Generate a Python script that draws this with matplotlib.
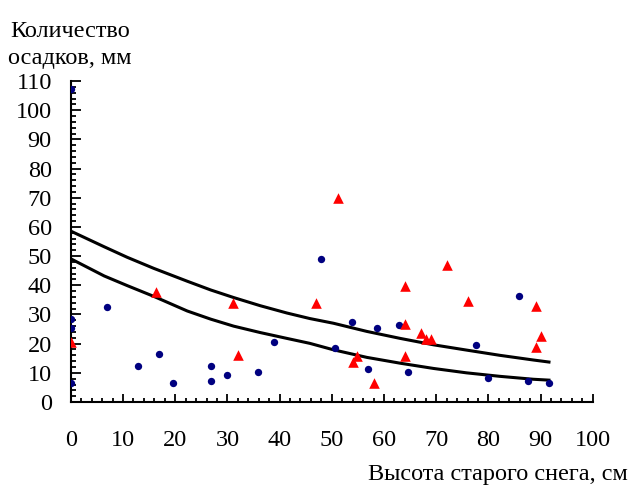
import matplotlib
matplotlib.use("Agg")
import matplotlib.pyplot as plt
import matplotlib.transforms as mtransforms
from matplotlib.ticker import MultipleLocator

plt.rcParams['font.family'] = ['Liberation Serif', 'DejaVu Serif']

# blue dots
blue_x = [0, 0, 0, 0, 6.9, 12.9, 16.9, 19.6, 26.8, 26.8, 29.9, 35.8, 38.9, 47.9,
          50.7, 53.8, 56.9, 58.7, 62.8, 64.6, 77.7, 79.9, 85.8, 87.6, 91.6]
blue_y = [107.4, 28.3, 25.2, 6.6, 32.5, 12.3, 16.4, 6.6, 12.3, 7.1, 9.1, 10.2, 20.6, 49.1,
          18.6, 27.3, 11.2, 25.2, 26.3, 10.2, 19.5, 8.1, 36.2, 7.1, 6.6]

# red triangles
red_x = [0.1, 16.3, 31.1, 32.1, 47.0, 51.1, 54.1, 54.9, 58.1, 64.1, 64.1, 64.1,
         67.1, 68.1, 69.0, 72.1, 76.1, 89.2, 89.2, 90.1]
red_y = [20.6, 37.7, 34.0, 16.0, 34.0, 69.8, 13.7, 15.8, 6.5, 39.8, 26.7, 15.9,
         23.5, 21.7, 21.6, 47.0, 34.5, 32.9, 19.0, 22.6]

# trend curves
upper_x = [0.2, 6.4, 10.8, 15.9, 22.3, 26.8, 31.2, 36.3, 41.4, 45.8,
           50.3, 56.7, 63.1, 69.5, 75.8, 82.2, 88.6, 91.6]
upper_y = [58.4, 53.2, 49.6, 45.8, 41.4, 38.4, 35.8, 33.0, 30.5, 28.6,
           27.0, 24.2, 21.8, 19.6, 17.8, 16.0, 14.4, 13.7]
lower_x = upper_x
lower_y = [48.9, 43.2, 39.9, 36.2, 31.2, 28.4, 26.0, 23.8, 21.8, 20.1,
           17.9, 15.3, 13.3, 11.5, 10.0, 8.8, 7.8, 7.5]

x_ticks = [0, 10, 20, 30, 40, 50, 60, 70, 80, 90, 100]
y_ticks = [0, 10, 20, 30, 40, 50, 60, 70, 80, 90, 100, 110]

fig = plt.figure(figsize=(6.32, 4.86), dpi=100)
ax = fig.add_axes([0.112, 0.1728, 0.826, 0.6605])

ax.plot(upper_x, upper_y, color='black', lw=2.2, zorder=2)
ax.plot(lower_x, lower_y, color='black', lw=2.2, zorder=2)
ax.scatter(blue_x, blue_y, s=28, color='#000080', marker='o', zorder=3, linewidths=0)
ax.scatter(red_x, red_y, s=58, color='#FF0000', marker='^', zorder=3, linewidths=0)

ax.set_xlim(0, 100)
ax.set_ylim(0, 110)
ax.set_xticks(x_ticks)
ax.set_yticks(y_ticks)
ax.xaxis.set_minor_locator(MultipleLocator(2))
ax.yaxis.set_minor_locator(MultipleLocator(2))

for s in ['top', 'right']:
    ax.spines[s].set_visible(False)
for s in ['left', 'bottom']:
    ax.spines[s].set_linewidth(1.5)

ax.tick_params(axis='both', which='both', direction='in', width=1.3,
               labelbottom=False, labelleft=False)
ax.tick_params(axis='x', which='major', length=6)
ax.tick_params(axis='x', which='minor', length=3)
ax.tick_params(axis='y', which='major', length=7.5)
ax.tick_params(axis='y', which='minor', length=3.5)

# tick labels placed well away from the axes, as in the original
xlab_tr = mtransforms.offset_copy(ax.get_xaxis_transform(), fig=fig, x=0, y=-44, units='dots')
for t in x_ticks:
    ax.text(t, 0, str(t), transform=xlab_tr, ha='center', va='baseline',
            fontsize=17.5, clip_on=False)
ylab_tr = mtransforms.offset_copy(ax.get_yaxis_transform(), fig=fig, x=-19, y=-8, units='dots')
for t in y_ticks:
    ax.text(0, t, str(t), transform=ylab_tr, ha='right', va='baseline',
            fontsize=17.5, clip_on=False)

fig.text(70 / 632, 1 - 45 / 486, 'Количество\nосадков, мм', ha='center', va='center',
         multialignment='center', fontsize=17.5, linespacing=1.35)
fig.text(628 / 632, 1 - 474 / 486, 'Высота старого снега, см', ha='right',
         va='center', fontsize=17.5)

fig.savefig('out.png', dpi=100)
